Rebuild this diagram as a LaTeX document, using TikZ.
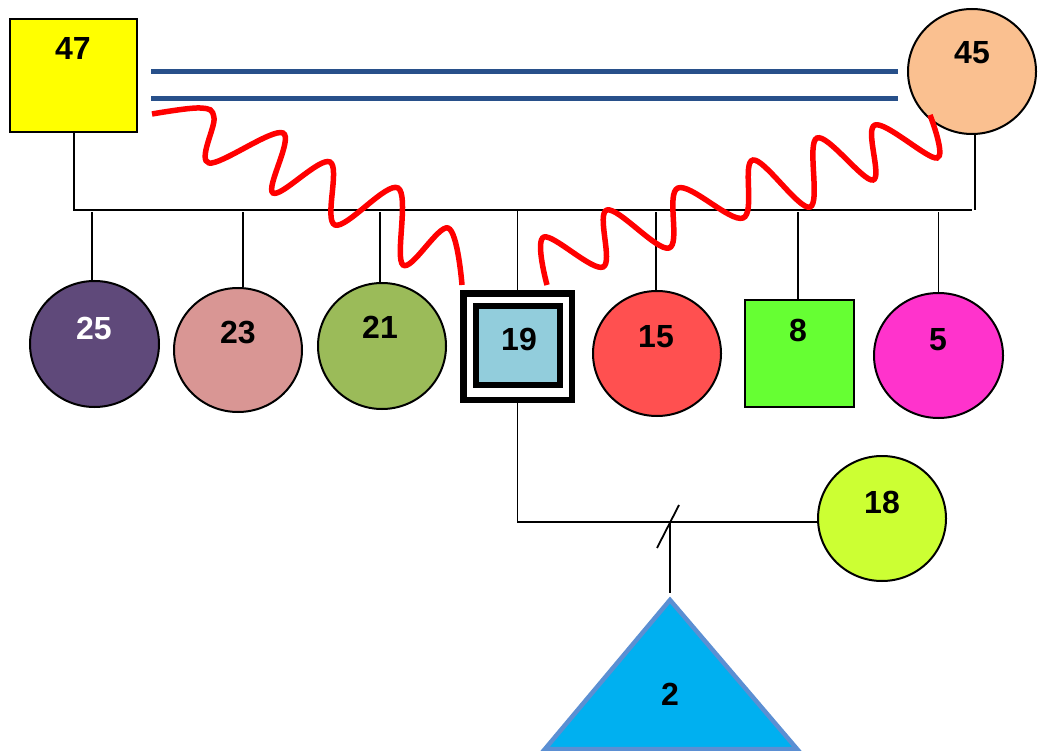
\documentclass[tikz,border=0pt]{standalone}
\usepackage{fontspec}
\setmainfont{Liberation Sans}
\usetikzlibrary{shapes.geometric,calc}
\definecolor{c47}{HTML}{FFFF00}
\definecolor{c45}{HTML}{FAC090}
\definecolor{c25}{HTML}{5F497A}
\definecolor{c23}{HTML}{D99694}
\definecolor{c21}{HTML}{9BBB59}
\definecolor{c19}{HTML}{92CDDC}
\definecolor{c15}{HTML}{FF5050}
\definecolor{c8}{HTML}{66FF33}
\definecolor{c5}{HTML}{FF33CC}
\definecolor{c18}{HTML}{CCFF33}
\definecolor{c2}{HTML}{00B0F0}
\definecolor{c2b}{HTML}{5B8FD3}
\definecolor{cmar}{HTML}{28508A}
\definecolor{cab}{HTML}{FF0000}
\begin{document}
\begin{tikzpicture}[x=1pt,y=-1pt,
  person/.style={draw=black, line width=2pt, inner sep=0pt},
  fem/.style={person, ellipse},
  male/.style={person, rectangle},
  lbl/.style={font=\fontsize{32}{32}\selectfont\bfseries, inner sep=0pt},
  link/.style={draw=black, line width=1.8pt},
  marry/.style={draw=cmar, line width=5pt},
  abuse/.style={draw=cab, line width=5.5pt},
  tri/.style={draw=c2b, fill=c2, line width=4.5pt, line join=miter}
]
\useasboundingbox (0,0) rectangle (1038,751);
\fill[white] (0,0) rectangle (1038,751);

% parents
\node[male, fill=c47, minimum width=127pt, minimum height=113pt] (n47) at (73.5,75.5) {};
\node[fem, fill=c45, minimum width=128pt, minimum height=125pt] (n45) at (972,71.5) {};

% children
\node[fem, fill=c25, minimum width=129pt, minimum height=126pt] (n25) at (94.5,344) {};
\node[fem, fill=c23, minimum width=128pt, minimum height=124pt] (n23) at (238,350) {};
\node[fem, fill=c21, minimum width=128pt, minimum height=126pt] (n21) at (382,346) {};
\node[male, draw, line width=6.5pt, fill=white, minimum width=108.5pt, minimum height=106.5pt] (n19) at (517.5,346.7) {};
\node[male, draw, line width=6pt, fill=c19, minimum width=84pt, minimum height=79pt] (n19i) at (518,345.8) {};
\node[fem, fill=c15, minimum width=128pt, minimum height=125pt] (n15) at (657,353.5) {};
\node[male, fill=c8, minimum width=109pt, minimum height=107pt] (n8) at (799.5,353.5) {};
\node[fem, fill=c5, minimum width=129pt, minimum height=125pt] (n5) at (938.5,355.5) {};
\node[fem, fill=c18, minimum width=128pt, minimum height=125pt] (n18) at (882,518.5) {};

% grandchild triangle
\coordinate (n2) at (670,600);
\draw[tri] (n2) -- (545,749) -- (797,749) -- cycle;

% labels
\node[lbl] (t47) at (73,48) {47};
\node[lbl] (t45) at (972,53) {45};
\node[lbl, text=white] (t25) at (94,328) {25};
\node[lbl] (t23) at (238,333) {23};
\node[lbl] (t21) at (380,327) {21};
\node[lbl] (t19) at (519,339) {19};
\node[lbl] (t15) at (656,337) {15};
\node[lbl] (t8) at (798,330) {8};
\node[lbl] (t5) at (938,340) {5};
\node[lbl] (t18) at (882,502) {18};
\node[lbl] (t2) at (670,694) {2};

% marriage double line
\path (n47.east |- n45.center) ++(13,0.5) coordinate (m1a);
\path (n45.west) ++(-9.5,0.5) coordinate (m1b);
\draw[marry] (m1a) -- (m1b);
\draw[marry] ([yshift=-26.5pt]m1a) -- ([yshift=-26.5pt]m1b);

% sibship bar
\coordinate (bar) at (0,210);
\coordinate (kids) at (0,212);
\draw[link] (n47.south -| 74,0) |- (bar -| n45.south) coordinate (barR);
\draw[link] ([xshift=3pt]n45.south) -- ([xshift=3pt]barR);
\draw[link] ([xshift=-2.5pt]n25.north) -- ([xshift=-2.5pt]n25.north |- kids);
\draw[link] ([xshift=5pt]n23.north) -- ([xshift=5pt]n23.north |- kids);
\draw[link] ([xshift=-2pt]n21.north) -- ([xshift=-2pt]n21.north |- kids);
\draw[link] (n19.north) -- (n19.north |- bar);
\draw[link] ([xshift=-1pt]n15.north) -- ([xshift=-1pt]n15.north |- kids);
\draw[link] ([xshift=-1.5pt]n8.north) -- ([xshift=-1.5pt]n8.north |- kids);
\draw[link] (n5.north) -- (n5.north |- kids);

% partnership 19 -- 18 and child 2
\coordinate (sib) at (670,522);
\draw[link] (n19.south) |- (sib) -- (sib -| n18.west);
\draw[link] (sib) -- ([yshift=7pt]n2);
\draw[link] ([shift={(-13,26)}]sib) -- ([shift={(9,-17)}]sib);

% abusive relationships
\draw[abuse] plot[smooth, tension=0.6] coordinates {(152,114) (200,108) (214,118) (209,163) (283,133) (273,193) (330,162) (335,225) (398,188) (403,265) (448,228) (462,285)};
\draw[abuse] plot[smooth, tension=0.6] coordinates {(547,285) (544,237) (603,267) (607,210) (669,248) (678,188) (743,218) (753,160) (810,207) (817,138) (873,180) (875,125) (937,158) (930,115)};
\end{tikzpicture}
\end{document}
